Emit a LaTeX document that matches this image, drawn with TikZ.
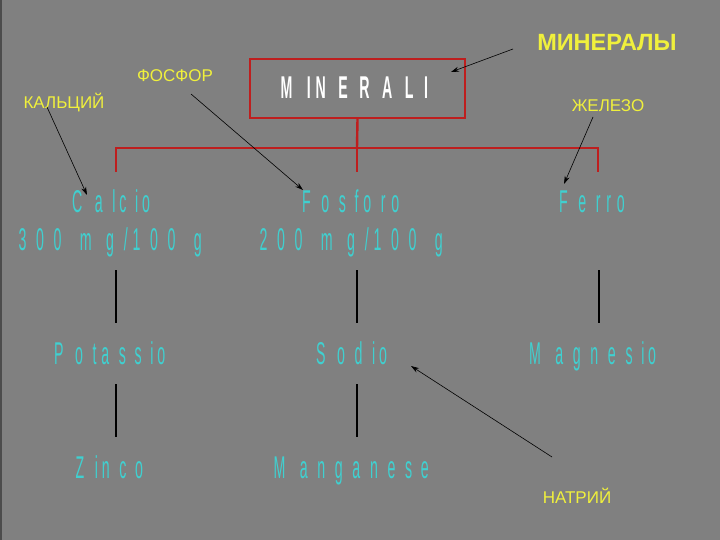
\documentclass[tikz,border=0pt]{standalone}
\usepackage{fontspec}
\setmainfont{Liberation Sans}
\newfontfamily\sqz[FakeStretch=0.45]{Liberation Sans}
\usetikzlibrary{arrows.meta,calc}
\definecolor{bg}{RGB}{128,128,128}
\definecolor{cyanc}{RGB}{64,208,208}
\definecolor{yelc}{RGB}{240,240,60}
\definecolor{redc}{RGB}{190,30,30}
\newlength\cw
\newcommand\cell[1]{\settowidth\cw{#1}\makebox[\cw][l]{\sqz #1}}
\makeatletter
\newcommand\spaced[1]{\@tfor\nx:=#1\do{\cell{\nx}}}
\makeatother
\tikzset{
  mineral/.style={text=cyanc, font=\fontsize{31.5}{36}\selectfont, anchor=base west, inner sep=0pt},
  titletext/.style={text=white, font=\bfseries\fontsize{31.5}{36}\selectfont, anchor=base west, inner sep=0pt},
  titlebox/.style={draw=redc, line width=2.2pt, minimum width=215pt, minimum height=59pt, inner sep=0pt},
  ylabel/.style={text=yelc, font=\fontsize{17}{20}\selectfont, anchor=base, inner sep=0pt},
  note/.style={-{Stealth[length=8pt,width=5pt]}, line width=0.6pt, black},
  redline/.style={draw=redc, line width=2.4pt},
  blackline/.style={draw=black, line width=2pt}
}
\begin{document}
\begin{tikzpicture}[x=1pt,y=-1pt]
\fill[bg] (0,0) rectangle (720,540);
\fill[black!70] (0,0) rectangle (1.5,540);
\useasboundingbox (0,0) rectangle (720,540);

% title box
\node[titlebox] (box) at (357.5,88.5) {};
\node[titletext] (title) at (280.5,99) {\spaced{MINERALI}};

% red tree
\coordinate (hub) at (357,148);
\coordinate (hl) at (116,148);
\coordinate (hr) at (598,148);
\coordinate (tl) at (116,172);
\coordinate (tm) at (357,172);
\coordinate (tr) at (598,172);
\draw[redline] (box.south) -- (hub);
\draw[redline] (tl) -- (hl) -- (hr) -- (tr);
\draw[redline] (hub) -- (tm);

% minerals
\node[mineral] (cal) at (72,213) {\spaced{Calcio}};
\node[mineral] (cal2) at (18.5,250) {\spaced{300}\ \spaced{mg/100}\ \spaced{g}};
\node[mineral] (fos) at (302,213) {\spaced{Fosforo}};
\node[mineral] (fos2) at (259.5,250) {\spaced{200}\ \spaced{mg/100}\ \spaced{g}};
\node[mineral] (fer) at (559,213) {\spaced{Ferro}};
\node[mineral] (pot) at (54,364) {\spaced{Potassio}};
\node[mineral] (sod) at (316,364) {\spaced{Sodio}};
\node[mineral] (mag) at (529,364) {\spaced{Magnesio}};
\node[mineral] (zin) at (75.5,478) {\spaced{Zinco}};
\node[mineral] (man) at (273.5,478) {\spaced{Manganese}};

% black connectors
\coordinate (a1) at (116,270); \coordinate (a2) at (116,323);
\coordinate (b1) at (357,270); \coordinate (b2) at (357,323);
\coordinate (c1) at (599,270); \coordinate (c2) at (599,323);
\coordinate (d1) at (116,384); \coordinate (d2) at (116,437);
\coordinate (e1) at (357,384); \coordinate (e2) at (357,437);
\draw[blackline] (a1) -- (a2);
\draw[blackline] (b1) -- (b2);
\draw[blackline] (c1) -- (c2);
\draw[blackline] (d1) -- (d2);
\draw[blackline] (e1) -- (e2);

% yellow labels
\node[ylabel] (kal) at (64,109) {КАЛЬЦИЙ};
\node[ylabel] (fosR) at (175,82) {ФОСФОР};
\node[ylabel, font=\bfseries\fontsize{23.5}{28}\selectfont] (minR) at (607,51) {МИНЕРАЛЫ};
\node[ylabel] (zhel) at (608,112) {ЖЕЛЕЗО};
\node[ylabel] (natr) at (577,503) {НАТРИЙ};

% arrows
\coordinate (kalT) at (47,107);  \coordinate (kalH) at (87,195);
\coordinate (fosT) at (191,94);  \coordinate (fosH) at (303,190);
\coordinate (minT) at (513,49);  \coordinate (minH) at (451,72);
\coordinate (zheT) at (593,117); \coordinate (zheH) at (564,184);
\coordinate (natT) at (552,457); \coordinate (natH) at (411,366);
\draw[note] (kalT) -- (kalH);
\draw[note] (fosT) -- (fosH);
\draw[note] (minT) -- (minH);
\draw[note] (zheT) -- (zheH);
\draw[note] (natT) -- (natH);
\end{tikzpicture}
\end{document}
